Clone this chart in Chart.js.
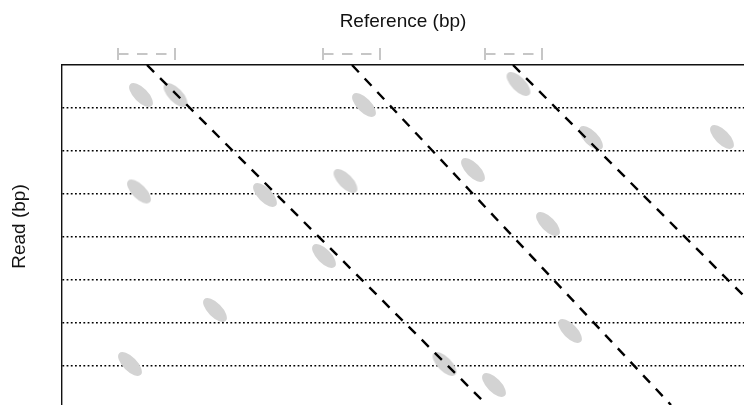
<!DOCTYPE html>
<html>
<head>
<meta charset="utf-8">
<title>Seed hits along the read</title>
<script src="https://cdn.jsdelivr.net/npm/chart.js@4/dist/chart.umd.min.js"></script>
<style>
  html, body { margin: 0; padding: 0; background: #fff; overflow: hidden; }
  canvas { display: block; }
</style>
</head>
<body>
<canvas id="dotplot" width="744" height="405"></canvas>
<script>
// Diagonal alignments: reference position at read 0 and at read 340
const diagStartRef = [85, 290, 451];
const diagEndRef   = [425, 609, 791];

// Search windows on the reference around each diagonal start
const windowFrom = [56, 261, 423];
const windowTo   = [113, 318, 480];

// Seed hits (reference bp, read bp)
const seedRef  = [79, 113.5, 302, 456.5, 529, 660, 77, 203, 283.5, 411, 486, 262, 153, 508, 68, 382.5, 432];
const seedRead = [30, 30, 40, 19, 73, 72, 126.5, 130, 116, 105, 159, 191, 245, 266, 299, 299, 320];

// Read positions where the read is split into segments
const readTicks = [43, 86, 129, 172, 215, 258, 301];

const REF_MAX = 682;
const READ_MAX = 340;
const READ_END = 340;
const WINDOW_LEVEL = -11;   // drawn just above the plot frame
const CAP_HALF = 6;

const FONT_FAMILY = "'Liberation Sans', Arial, Helvetica, sans-serif";
const TEXT_COLOR = '#111';

// Elongated seed marker, tilted along the diagonal
const seedMark = (() => {
  const c = document.createElement('canvas');
  c.width = 36; c.height = 36;
  const g = c.getContext('2d');
  g.fillStyle = '#d3d3d3';
  g.beginPath();
  g.ellipse(18, 18, 15.3, 7, Math.PI / 4, 0, Math.PI * 2);
  g.fill();
  return c;
})();

const datasets = [];

datasets.push({
  label: 'seeds',
  data: seedRef.map((x, i) => ({ x, y: seedRead[i] })),
  pointStyle: seedMark,
  pointRadius: 12,
  showLine: false,
  order: 3
});

diagStartRef.forEach((s, i) => {
  datasets.push({
    label: 'diagonal ' + (i + 1),
    data: [{ x: s, y: 0 }, { x: diagEndRef[i], y: READ_END }],
    showLine: true,
    borderColor: '#000',
    borderWidth: 2.4,
    borderDash: [10, 8.5],
    borderCapStyle: 'butt',
    pointRadius: 0,
    order: 1
  });
});

windowFrom.forEach((a, i) => {
  const b = windowTo[i];
  datasets.push({
    label: 'window ' + (i + 1),
    data: [{ x: a, y: WINDOW_LEVEL }, { x: b, y: WINDOW_LEVEL }],
    showLine: true,
    borderColor: '#c6c6c6',
    borderWidth: 2,
    borderDash: [10.5, 8.5],
    borderCapStyle: 'butt',
    pointRadius: 0,
    clip: false,
    order: 2
  });
  [a, b].forEach(x => {
    datasets.push({
      label: 'window cap',
      data: [{ x, y: WINDOW_LEVEL - CAP_HALF }, { x, y: WINDOW_LEVEL + CAP_HALF }],
      showLine: true,
      borderColor: '#c6c6c6',
      borderWidth: 2,
      borderCapStyle: 'butt',
      pointRadius: 0,
      clip: false,
      order: 2
    });
  });
});

// Vertical axis title, placed beside the frame
const readTitle = {
  id: 'readTitle',
  afterDraw(chart) {
    const ctx = chart.ctx;
    ctx.save();
    ctx.font = '19px ' + FONT_FAMILY;
    ctx.fillStyle = TEXT_COLOR;
    ctx.textAlign = 'center';
    ctx.textBaseline = 'alphabetic';
    ctx.translate(25, 226.5);
    ctx.rotate(-Math.PI / 2);
    ctx.fillText('Read (bp)', 0, 0);
    ctx.restore();
  }
};

new Chart(document.getElementById('dotplot'), {
  type: 'scatter',
  data: { datasets },
  plugins: [readTitle],
  options: {
    responsive: false,
    animation: false,
    devicePixelRatio: 1,
    events: [],
    layout: { padding: 0, autoPadding: false },
    plugins: { legend: { display: false }, tooltip: { enabled: false } },
    scales: {
      x: {
        type: 'linear',
        position: 'top',
        min: 0,
        max: REF_MAX,
        ticks: { display: false },
        grid: { display: false, drawTicks: false },
        border: { display: true, color: '#111', width: 1.4 },
        title: {
          display: true,
          text: 'Reference (bp)',
          color: TEXT_COLOR,
          font: { family: FONT_FAMILY, size: 19 },
          padding: { top: 10, bottom: 0 }
        },
        afterFit(scale) { scale.height = 65; }
      },
      y: {
        type: 'linear',
        position: 'left',
        reverse: true,
        min: 0,
        max: READ_MAX,
        ticks: { display: false },
        afterBuildTicks(scale) { scale.ticks = readTicks.map(v => ({ value: v })); },
        grid: { display: true, drawTicks: false, color: '#000', lineWidth: 1.6 },
        border: { display: true, color: '#111', width: 1.4, dash: [1.8, 2.4] },
        title: { display: false },
        afterFit(scale) { scale.width = 62; }
      }
    }
  }
});
</script>
</body>
</html>
